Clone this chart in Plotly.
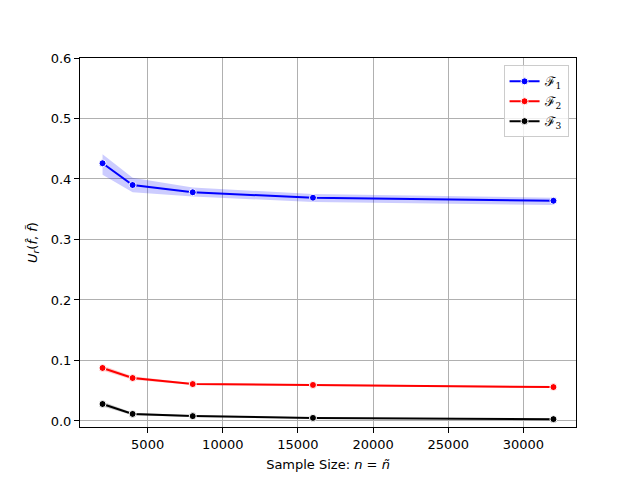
import plotly.graph_objects as go

sizes = [2000, 4000, 8000, 16000, 32000]

f1_mean = [0.426, 0.390, 0.378, 0.369, 0.364]
f1_low = [0.407, 0.378, 0.371, 0.362, 0.357]
f1_high = [0.441, 0.402, 0.386, 0.375, 0.369]

f2_mean = [0.0876, 0.071, 0.061, 0.0595, 0.056]
f2_low = [0.0835, 0.068, 0.0595, 0.058, 0.0545]
f2_high = [0.0915, 0.074, 0.0625, 0.061, 0.0575]

f3_mean = [0.028, 0.0116, 0.008, 0.005, 0.003]
f3_low = [0.024, 0.0095, 0.0065, 0.004, 0.002]
f3_high = [0.032, 0.0135, 0.0095, 0.006, 0.004]

series = [
    ("ℱ<sub>1</sub>", "#0000ff", "rgba(0,0,255,0.2)", f1_mean, f1_low, f1_high),
    ("ℱ<sub>2</sub>", "#ff0000", "rgba(255,0,0,0.2)", f2_mean, f2_low, f2_high),
    ("ℱ<sub>3</sub>", "#000000", "rgba(0,0,0,0.2)", f3_mean, f3_low, f3_high),
]

fig = go.Figure()
for name, color, fill, mean, low, high in series:
    fig.add_trace(go.Scatter(
        x=sizes + sizes[::-1], y=high + low[::-1],
        fill="toself", fillcolor=fill, line=dict(width=0, color=fill),
        mode="lines", showlegend=False, hoverinfo="skip"))
for name, color, fill, mean, low, high in series:
    fig.add_trace(go.Scatter(
        x=sizes, y=mean, name=name, mode="lines+markers",
        line=dict(color=color, width=2),
        marker=dict(symbol="circle", size=7, color=color,
                    line=dict(color="white", width=1))))

axis_common = dict(
    showline=True, linecolor="black", linewidth=1, mirror=True,
    ticks="outside", ticklen=5, tickcolor="black", tickwidth=1,
    showgrid=True, gridcolor="#b0b0b0", gridwidth=1, zeroline=False,
    tickfont=dict(family="DejaVu Sans", size=13, color="black"),
)

fig.update_layout(
    width=640, height=480,
    margin=dict(l=72, r=72, t=50, b=61),
    paper_bgcolor="white", plot_bgcolor="white",
    font=dict(family="DejaVu Sans", size=13, color="black"),
    xaxis=dict(range=[500, 33500], tickvals=[5000, 10000, 15000, 20000, 25000, 30000],
               tickformat="d",
               title=dict(text="Sample Size: <i>n</i> = <i>ñ</i>", standoff=9,
                          font=dict(size=13)),
               **axis_common),
    yaxis=dict(range=[-0.01, 0.6], tickvals=[0.0, 0.1, 0.2, 0.3, 0.4, 0.5, 0.6],
               tickformat=".1f",
               title=dict(text="<i>U<sub>r</sub></i>(<i>f̂</i>, <i>f̃</i>)", standoff=10,
                          font=dict(size=13)),
               **axis_common),
    legend=dict(x=0.985, y=0.98, xanchor="right", yanchor="top",
                bgcolor="rgba(255,255,255,0.8)", bordercolor="#cccccc", borderwidth=1,
                font=dict(family="DejaVu Serif", size=13)),
)

fig.write_html("out.html")
